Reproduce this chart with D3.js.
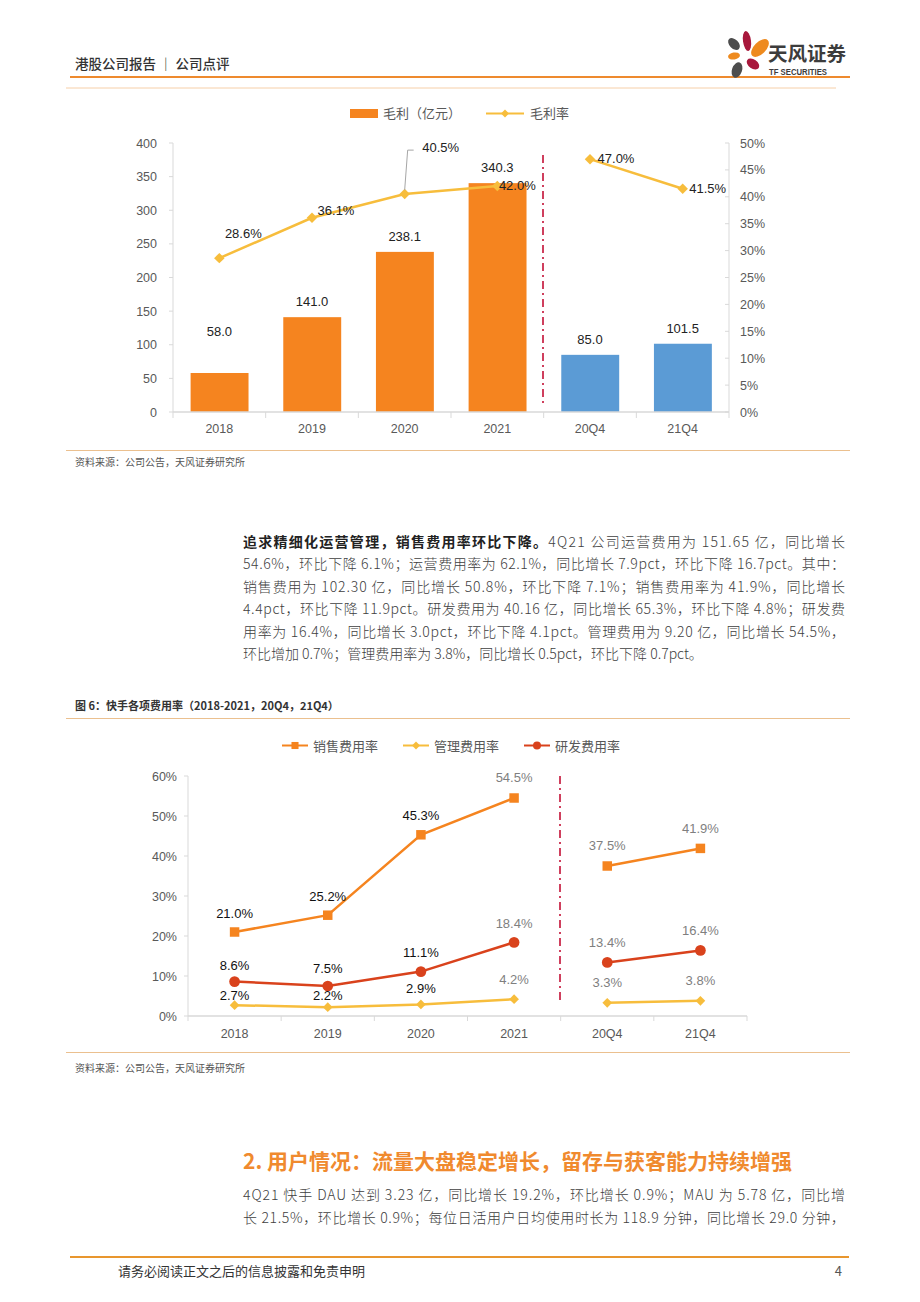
<!DOCTYPE html>
<html><head><meta charset="utf-8">
<script src="https://cdn.jsdelivr.net/npm/d3@7"></script>
<style>
html,body{margin:0;padding:0;background:#fff;}
svg{display:block;}
text{font-family:"Noto Sans CJK SC","Noto Sans",sans-serif;}
.num{font-family:"Liberation Sans",Arial,sans-serif;}
.narrow{font-family:"Liberation Sans Narrow","Liberation Sans",Arial,sans-serif;}
</style></head>
<body>
<svg id="page" width="920" height="1302"></svg>
<script>
// ---------------- data ----------------
const categories = ['2018','2019','2020','2021','20Q4','21Q4'];
const grossProfit = [58.0, 141.0, 238.1, 340.3, 85.0, 101.5];
const grossMargin = [28.6, 36.1, 40.5, 42.0, 47.0, 41.5];
const leftTicks1 = [0,50,100,150,200,250,300,350,400];
const rightTicks1 = [0,5,10,15,20,25,30,35,40,45,50];
const salesRate = [21.0, 25.2, 45.3, 54.5, 37.5, 41.9];
const adminRate = [2.7, 2.2, 2.9, 4.2, 3.3, 3.8];
const rdRate = [8.6, 7.5, 11.1, 18.4, 13.4, 16.4];
const ticks2 = [0,10,20,30,40,50,60];

const svg = d3.select('#page');
const ORANGE = '#F5841F', BLUE = '#5B9BD5', YEL = '#F7BD3C', RED = '#D9421C';
const AX = '#D9D9D9', LAB = '#595959';

// ---------------- header ----------------
svg.append('text').attr('x',75).attr('y',69).attr('font-size',13.5).attr('font-weight',500).attr('fill','#333')
  .attr('xml:space','preserve').text('港股公司报告 ｜ 公司点评');
svg.append('line').attr('x1',70).attr('x2',850).attr('y1',77).attr('y2',77).attr('stroke','#EE8A2E').attr('stroke-width',2);
svg.append('line').attr('x1',66).attr('x2',836).attr('y1',88).attr('y2',88).attr('stroke','#F6CFA8').attr('stroke-width',1);
// logo
const logo = svg.append('g');
const petals = [
  {cx:747,cy:41,rx:4,ry:10,rot:-8,c:'#A8183C'},
  {cx:734,cy:44,rx:4.5,ry:7,rot:-45,c:'#4D4D4D'},
  {cx:760,cy:48,rx:6,ry:11,rot:45,c:'#EE8A1E'},
  {cx:734,cy:56,rx:6,ry:3.5,rot:-10,c:'#EE8A1E'},
  {cx:753,cy:64,rx:7,ry:4.5,rot:35,c:'#A8183C'},
  {cx:737,cy:70,rx:5,ry:8,rot:20,c:'#4D4D4D'}
];
logo.selectAll('ellipse').data(petals).join('ellipse')
  .attr('cx',d=>d.cx).attr('cy',d=>d.cy).attr('rx',d=>d.rx).attr('ry',d=>d.ry)
  .attr('transform',d=>`rotate(${d.rot},${d.cx},${d.cy})`).attr('fill',d=>d.c);
svg.append('text').attr('x',768).attr('y',61).attr('font-size',19.5).attr('font-weight',700).attr('fill','#3C3C3C').text('天风证券');
svg.append('text').attr('class','num').attr('x',769).attr('y',75).attr('font-size',8.5).attr('font-weight',700).attr('fill','#3C3C3C')
  .attr('textLength',58).attr('lengthAdjust','spacingAndGlyphs').text('TF SECURITIES');

// ---------------- chart 1 ----------------
{
  const g = svg.append('g');
  const x = d3.scaleBand().domain(categories).range([173,729]).padding(0);
  const y = d3.scaleLinear().domain([0,400]).range([412,143]);
  const y2 = d3.scaleLinear().domain([0,50]).range([412,143]);
  const bw = x.bandwidth();
  // legend
  g.append('rect').attr('x',350).attr('y',109).attr('width',28).attr('height',9).attr('fill',ORANGE);
  g.append('text').attr('x',383).attr('y',118).attr('font-size',13).attr('fill',LAB).text('毛利（亿元）');
  g.append('line').attr('x1',486).attr('x2',524).attr('y1',113.5).attr('y2',113.5).attr('stroke',YEL).attr('stroke-width',2);
  g.append('path').attr('d',d3.symbol(d3.symbolDiamond2,40)()).attr('transform','translate(505,113.5)').attr('fill',YEL);
  g.append('text').attr('x',530).attr('y',118).attr('font-size',13).attr('fill',LAB).text('毛利率');
  // axes
  g.append('line').attr('x1',173).attr('x2',173).attr('y1',143).attr('y2',412).attr('stroke',AX);
  g.append('line').attr('x1',729).attr('x2',729).attr('y1',143).attr('y2',412).attr('stroke',AX);
  g.selectAll('.lt').data(leftTicks1).join('text').attr('class','num')
    .attr('x',157).attr('y',d=>y(d)+4.5).attr('text-anchor','end').attr('font-size',12.5).attr('fill',LAB).text(d=>d);
  g.selectAll('.lk').data(leftTicks1).join('line').attr('x1',169).attr('x2',173).attr('y1',d=>y(d)).attr('y2',d=>y(d)).attr('stroke',AX);
  g.selectAll('.rt').data(rightTicks1).join('text').attr('class','num')
    .attr('x',740).attr('y',d=>y2(d)+4.5).attr('font-size',12.5).attr('fill',LAB).text(d=>d+'%');
  g.selectAll('.rk').data(rightTicks1).join('line').attr('x1',725).attr('x2',729).attr('y1',d=>y2(d)).attr('y2',d=>y2(d)).attr('stroke',AX);
  // bars
  g.selectAll('.bar').data(categories).join('rect')
    .attr('x',c=>x(c)+bw*0.19).attr('width',bw*0.625)
    .attr('y',(c,i)=>y(grossProfit[i])).attr('height',(c,i)=>y(0)-y(grossProfit[i]))
    .attr('fill',(c,i)=>i<4?ORANGE:BLUE);
  g.append('line').attr('x1',173).attr('x2',729).attr('y1',412).attr('y2',412).attr('stroke',AX).attr('stroke-width',1.5);
  g.selectAll('.bt').data(d3.range(categories.length+1)).join('line')
    .attr('x1',i=>173+i*x.step()).attr('x2',i=>173+i*x.step()).attr('y1',412).attr('y2',418).attr('stroke',AX);
  g.selectAll('.xl').data(categories).join('text').attr('class','num')
    .attr('x',c=>x(c)+bw/2).attr('y',433).attr('text-anchor','middle').attr('font-size',12.5).attr('fill',LAB).text(c=>c);
  // bar labels
  const barDy = [-37,-11,-11,-11,-11,-11];
  g.selectAll('.bl').data(categories).join('text').attr('class','num')
    .attr('x',c=>x(c)+bw/2).attr('y',(c,i)=>y(grossProfit[i])+barDy[i]).attr('text-anchor','middle')
    .attr('font-size',13).attr('fill','#222').text((c,i)=>grossProfit[i].toFixed(1));
  // divider
  g.append('line').attr('x1',543).attr('x2',543).attr('y1',155).attr('y2',405)
    .attr('stroke','#C00028').attr('stroke-width',1.5).attr('stroke-dasharray','8,4,2,4');
  // line
  const line = d3.line().x(d=>x(d.c)+bw/2).y(d=>y2(d.v));
  const pts = categories.map((c,i)=>({c,v:grossMargin[i],i}));
  g.append('path').attr('d',line(pts.slice(0,4))).attr('fill','none').attr('stroke',YEL).attr('stroke-width',2.5);
  g.append('path').attr('d',line(pts.slice(4))).attr('fill','none').attr('stroke',YEL).attr('stroke-width',2.5);
  g.selectAll('.mk').data(pts).join('path').attr('d',d3.symbol(d3.symbolDiamond2,70)())
    .attr('transform',d=>`translate(${x(d.c)+bw/2},${y2(d.v)})`).attr('fill',YEL);
  // leader for 40.5%
  const lx = x('2020')+bw/2, ly = y2(grossMargin[2]);
  g.append('polyline').attr('points',`${lx},${ly-4} ${lx+3},${ly-44} ${lx+9},${ly-44}`).attr('fill','none').attr('stroke','#A6A6A6').attr('stroke-width',1);
  const mOff = [[24,-20],[24,-3],[36,-42],[20,4],[26,4],[25,4]];
  g.selectAll('.ml').data(pts).join('text').attr('class','num')
    .attr('x',d=>x(d.c)+bw/2+mOff[d.i][0]).attr('y',d=>y2(d.v)+mOff[d.i][1]).attr('text-anchor','middle')
    .attr('font-size',13).attr('fill','#222').text(d=>d.v.toFixed(1)+'%');
  // source
  g.append('line').attr('x1',66).attr('x2',850).attr('y1',450.5).attr('y2',450.5).attr('stroke','#EBC08F').attr('stroke-width',1);
  g.append('text').attr('x',75).attr('y',466).attr('font-size',10).attr('fill','#555').text('资料来源：公司公告，天风证券研究所');
}

// ---------------- paragraph 1 ----------------
const para1 = [
  [['追求精细化运营管理，销售费用率环比下降。',true],['4Q21 公司运营费用为 151.65 亿，同比增长',false]],
  [['54.6%，环比下降 6.1%；运营费用率为 62.1%，同比增长 7.9pct，环比下降 16.7pct。其中：',false]],
  [['销售费用为 102.30 亿，同比增长 50.8%，环比下降 7.1%；销售费用率为 41.9%，同比增长',false]],
  [['4.4pct，环比下降 11.9pct。研发费用为 40.16 亿，同比增长 65.3%，环比下降 4.8%；研发费',false]],
  [['用率为 16.4%，同比增长 3.0pct，环比下降 4.1pct。管理费用为 9.20 亿，同比增长 54.5%，',false]],
  [['环比增加 0.7%；管理费用率为 3.8%，同比增长 0.5pct，环比下降 0.7pct。',false]]
];
function paragraph(lines, x0, y0, lh, width, size){
  lines.forEach((segs,i)=>{
    const t = svg.append('text').attr('x',x0).attr('y',y0+i*lh).attr('font-size',size).attr('fill','#404040');
    if(i<lines.length-1) t.attr('textLength',width).attr('lengthAdjust','spacing');
    segs.forEach(([s,b])=>{
      t.append('tspan').attr('font-weight',b?700:300).attr('fill',b?'#222':'#404040').text(s);
    });
  });
}
paragraph(para1, 243, 547, 22.4, 602, 14);

// ---------------- chart 2 ----------------
{
  const g = svg.append('g');
  g.append('text').attr('x',75).attr('y',710).attr('font-size',11).attr('font-weight',700).attr('fill','#333')
    .text('图 6：快手各项费用率（2018-2021，20Q4，21Q4）');
  g.append('line').attr('x1',66).attr('x2',850).attr('y1',718.5).attr('y2',718.5).attr('stroke','#EBC08F').attr('stroke-width',1);
  const x = d3.scaleBand().domain(categories).range([188,747]).padding(0);
  const y = d3.scaleLinear().domain([0,60]).range([1016,776]);
  const bw = x.bandwidth();
  const cx = c=>x(c)+bw/2;
  // legend
  const leg = [
    {n:'销售费用率',c:ORANGE,s:d3.symbolSquare,x:282},
    {n:'管理费用率',c:YEL,s:d3.symbolDiamond2,x:403},
    {n:'研发费用率',c:RED,s:d3.symbolCircle,x:524}
  ];
  leg.forEach(l=>{
    g.append('line').attr('x1',l.x).attr('x2',l.x+26).attr('y1',745.5).attr('y2',745.5).attr('stroke',l.c).attr('stroke-width',2);
    g.append('path').attr('d',d3.symbol(l.s,l.s===d3.symbolDiamond2?40:50)()).attr('transform',`translate(${l.x+13},745.5)`).attr('fill',l.c);
    g.append('text').attr('x',l.x+31).attr('y',750.5).attr('font-size',13).attr('fill',LAB).text(l.n);
  });
  // axes
  g.append('line').attr('x1',188).attr('x2',188).attr('y1',776).attr('y2',1016).attr('stroke',AX);
  g.selectAll('.tk').data(ticks2).join('line').attr('x1',184).attr('x2',188).attr('y1',d=>y(d)).attr('y2',d=>y(d)).attr('stroke',AX);
  g.selectAll('.tl').data(ticks2).join('text').attr('class','num')
    .attr('x',177).attr('y',d=>y(d)+4.5).attr('text-anchor','end').attr('font-size',12.5).attr('fill',LAB).text(d=>d+'%');
  g.append('line').attr('x1',188).attr('x2',747).attr('y1',1016).attr('y2',1016).attr('stroke',AX).attr('stroke-width',1.5);
  g.selectAll('.bt').data(d3.range(categories.length+1)).join('line')
    .attr('x1',i=>188+i*x.step()).attr('x2',i=>188+i*x.step()).attr('y1',1016).attr('y2',1021).attr('stroke',AX);
  g.selectAll('.xl').data(categories).join('text').attr('class','num')
    .attr('x',cx).attr('y',1038).attr('text-anchor','middle').attr('font-size',12.5).attr('fill',LAB).text(c=>c);
  // divider
  g.append('line').attr('x1',560).attr('x2',560).attr('y1',776).attr('y2',1000)
    .attr('stroke','#C00028').attr('stroke-width',1.5).attr('stroke-dasharray','8,4,2,4');
  const series = [
    {v:salesRate,c:ORANGE,s:d3.symbolSquare,size:90,dy:[-19,-19,-19,-21,-21,-20]},
    {v:rdRate,c:RED,s:d3.symbolCircle,size:90,dy:[-16,-18,-19,-19,-20,-20]},
    {v:adminRate,c:YEL,s:d3.symbolDiamond2,size:60,dy:[-10,-12,-16,-20,-20,-20]}
  ];
  const line = d3.line().x(d=>cx(d.c)).y(d=>y(d.v));
  series.forEach(se=>{
    const pts = categories.map((c,i)=>({c,v:se.v[i],i}));
    [pts.slice(0,4),pts.slice(4)].forEach(p=>
      g.append('path').attr('d',line(p)).attr('fill','none').attr('stroke',se.c).attr('stroke-width',2.5));
    g.selectAll(null).data(pts).join('path').attr('d',d3.symbol(se.s,se.size)())
      .attr('transform',d=>`translate(${cx(d.c)},${y(d.v)})`).attr('fill',se.c);
    g.selectAll(null).data(pts).join('text')
      .attr('class',d=>d.i<3?'num':'narrow')
      .attr('x',d=>cx(d.c)).attr('y',d=>y(d.v)+se.dy[d.i]+4.5).attr('text-anchor','middle')
      .attr('font-size',13).attr('fill',d=>d.i<3?'#111':'#7F7F7F').text(d=>d.v.toFixed(1)+'%');
  });
  g.append('line').attr('x1',66).attr('x2',850).attr('y1',1052.5).attr('y2',1052.5).attr('stroke','#EBC08F').attr('stroke-width',1);
  g.append('text').attr('x',75).attr('y',1072).attr('font-size',10).attr('fill','#555').text('资料来源：公司公告，天风证券研究所');
}

// ---------------- section 2 ----------------
svg.append('text').attr('x',243).attr('y',1169).attr('font-size',21).attr('font-weight',700).attr('fill','#F08A2E')
  .text('2. 用户情况：流量大盘稳定增长，留存与获客能力持续增强');
paragraph([
  [['4Q21 快手 DAU 达到 3.23 亿，同比增长 19.2%，环比增长 0.9%；MAU 为 5.78 亿，同比增',false]],
  [['长 21.5%，环比增长 0.9%；每位日活用户日均使用时长为 118.9 分钟，同比增长 29.0 分钟，',false]],
  [['',false]]
], 243, 1200, 23, 602, 14);

// ---------------- footer ----------------
svg.append('line').attr('x1',70).attr('x2',849).attr('y1',1257).attr('y2',1257).attr('stroke','#E8962E').attr('stroke-width',2);
svg.append('text').attr('x',118).attr('y',1276).attr('font-size',13).attr('fill','#333').text('请务必阅读正文之后的信息披露和免责申明');
svg.append('text').attr('x',842).attr('y',1276).attr('text-anchor','end').attr('font-size',13).attr('fill','#555').text('4');
</script>
</body></html>
